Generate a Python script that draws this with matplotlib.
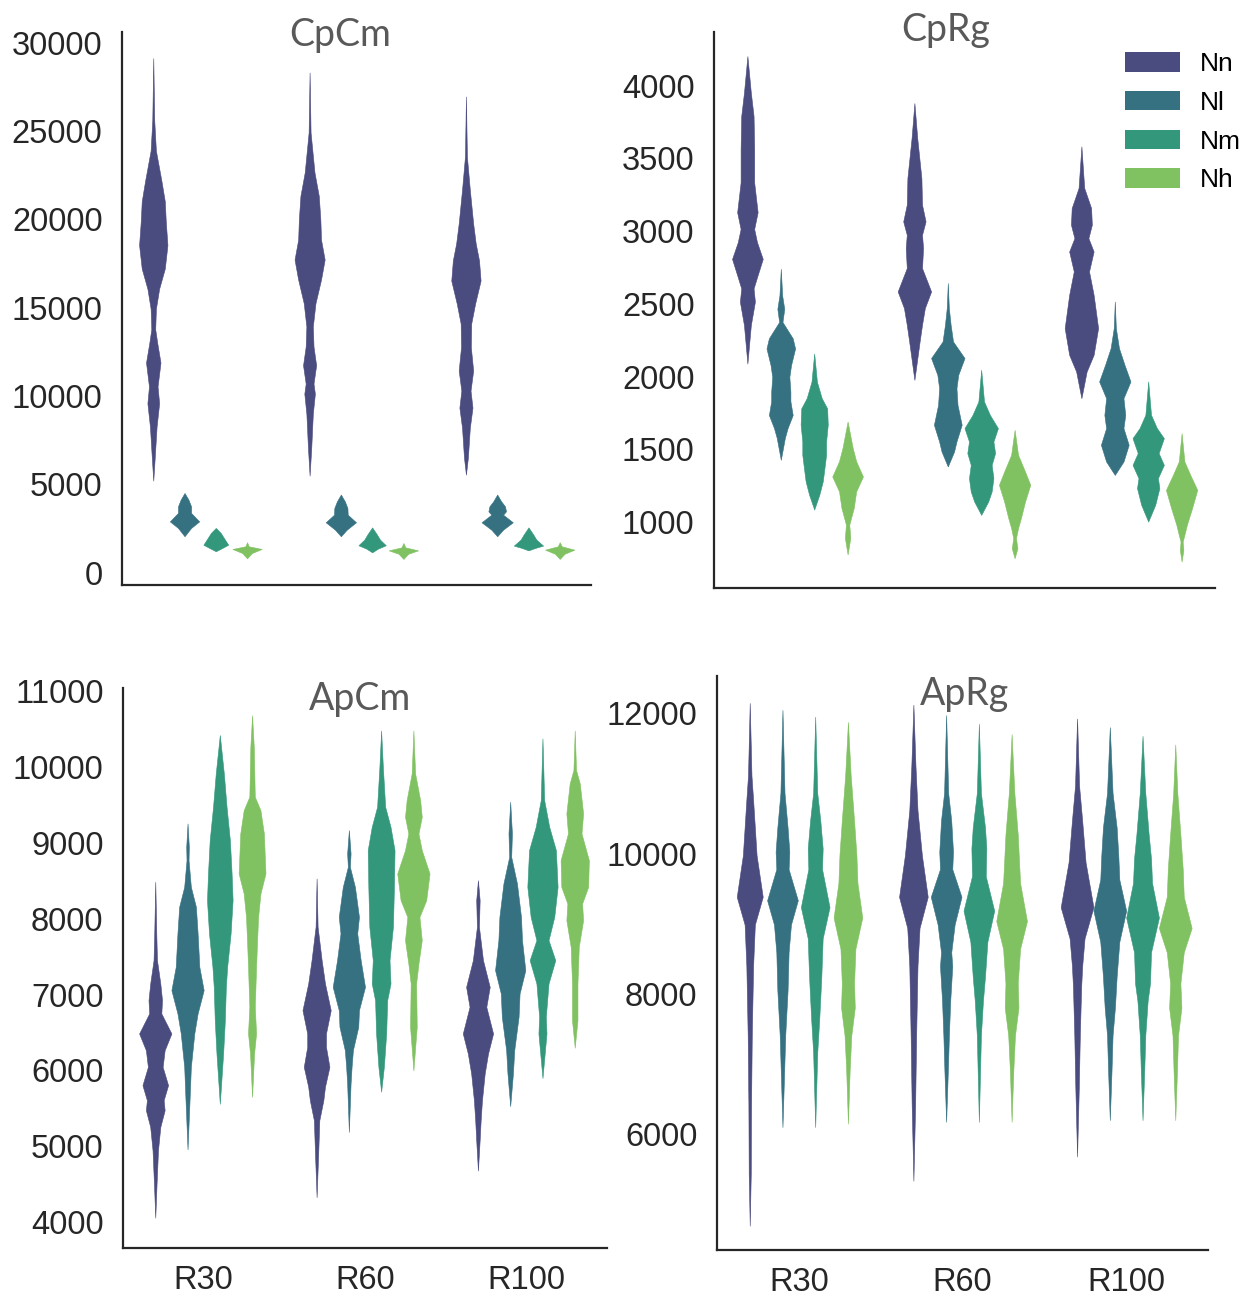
import numpy as np
import matplotlib.pyplot as plt
from matplotlib.patches import Patch

plt.rcParams['font.family'] = ['Liberation Sans', 'DejaVu Sans']

categories = ['R30', 'R60', 'R100']
groups = ['Nn', 'Nl', 'Nm', 'Nh']
colors = ['#4a4b7e', '#367182', '#33977c', '#80c161']

# violin profiles: (value, relative density), one list per category
# ---- CpCm ----
cpcm_nn = [
    [(5210, 0), (6340, 1.3), (8260, 3.4), (9590, 6), (10540, 4.4), (11890, 7.4), (13020, 4), (13780, 2),
     (14940, 2.7), (16070, 6), (17210, 11.8), (18540, 14.5), (19880, 12.8), (21020, 11.8), (22160, 8.4),
     (23880, 2.7), (25600, 1), (29120, 0)],
    [(5490, 0), (7080, 1.7), (9000, 3.3), (10130, 5.4), (10700, 4), (11740, 6.7), (12800, 4), (13930, 3.3),
     (15250, 6), (16590, 11.7), (17720, 15.4), (18850, 11.7), (19990, 11), (21320, 9.4), (22650, 5),
     (24910, 1), (28310, 0)],
    [(5550, 0), (6510, 2), (8210, 4), (9340, 6.7), (10300, 4.7), (11440, 7.4), (12770, 5), (14100, 5.4),
     (15230, 9.4), (16530, 15), (17670, 13.4), (18630, 10), (19760, 7.4), (21660, 4), (23550, 1), (26950, 0)],
]
cpcm_nl = [
    [(2060, 0), (2530, 6.7), (2900, 15), (3380, 6.7), (3750, 6.7), (4130, 4), (4510, 0)],
    [(2060, 0), (2430, 6), (2850, 15.5), (3280, 7), (3660, 6.7), (4040, 4), (4420, 0)],
    [(2060, 0), (2430, 6), (2850, 16), (3280, 6), (3470, 9), (3750, 8), (4040, 4), (4420, 0)],
]
cpcm_nm = [
    [(1210, 0), (1400, 6.7), (1580, 12.7), (1960, 8.3), (2250, 5), (2530, 0)],
    [(1150, 0), (1360, 6), (1550, 14), (1870, 8), (2150, 5), (2560, 0)],
    [(1260, 0), (1400, 7), (1530, 15), (1870, 8), (2150, 5), (2560, 0)],
]
cpcm_nh = [
    [(810, 0), (1110, 5), (1340, 15), (1490, 1.7), (1720, 0)],
    [(775, 0), (1070, 5), (1260, 15), (1430, 2), (1680, 0)],
    [(775, 0), (1070, 5), (1300, 15), (1490, 2), (1720, 0)],
]

# ---- CpRg ----
cprg_nn = [
    [(2089, 0), (2354, 3.3), (2515, 7.2), (2606, 5.9), (2697, 9.8), (2809, 14.7), (2924, 9.2), (3015, 6.5),
     (3130, 9.8), (3335, 6.5), (3564, 6.5), (3792, 5.9), (3952, 3.3), (4204, 0)],
    [(1977, 0), (2241, 5), (2356, 7.3), (2471, 10), (2585, 16), (2746, 7.3), (2884, 8.3), (2975, 7.3),
     (3067, 10.7), (3182, 7.3), (3365, 6.7), (3641, 2.7), (3881, 0)],
    [(1851, 0), (2034, 5), (2149, 11.7), (2333, 16), (2562, 11.7), (2723, 7.3), (2860, 11.7), (2952, 6.7),
     (3044, 10), (3159, 9.3), (3297, 2.7), (3583, 0)],
]
cprg_nl = [
    [(1427, 0), (1578, 3.9), (1645, 6.5), (1735, 11.4), (1830, 9.2), (1896, 9.2), (1997, 8.2), (2078, 9.8),
     (2193, 13.7), (2263, 11.4), (2375, 1.6), (2466, 3.3), (2558, 1.3), (2741, 0)],
    [(1381, 0), (1484, 6), (1553, 8.3), (1668, 13.3), (1805, 9.3), (1920, 8.3), (2012, 10), (2127, 16),
     (2241, 5), (2356, 2.7), (2471, 1), (2643, 0)],
    [(1323, 0), (1415, 8.3), (1530, 13.3), (1645, 8.3), (1736, 10), (1851, 8.3), (1966, 15), (2080, 9.3),
     (2195, 4), (2333, 1), (2516, 0)],
]
cprg_nm = [
    [(1085, 0), (1187, 4.9), (1279, 8.2), (1369, 9.8), (1461, 11.4), (1553, 11.4), (1669, 13), (1781, 12.4),
     (1851, 7.2), (1964, 2.6), (2158, 0)],
    [(1048, 0), (1140, 6.7), (1209, 10), (1301, 11.7), (1392, 10), (1473, 13.3), (1553, 11.7), (1645, 16),
     (1736, 8.3), (1828, 2.7), (2046, 0)],
    [(1002, 0), (1117, 6.7), (1232, 10.7), (1301, 9.3), (1392, 15), (1473, 10), (1576, 15), (1645, 8.3),
     (1736, 2.7), (1966, 0)],
]
cprg_nh = [
    [(776, 0), (890, 2.6), (981, 1.6), (1096, 5.9), (1210, 8.2), (1312, 14.7), (1417, 8.2), (1508, 4.9),
     (1690, 0)],
    [(750, 0), (819, 2.7), (888, 1.3), (957, 3.3), (1025, 6), (1140, 10), (1255, 15), (1346, 10), (1461, 3.3),
     (1633, 0)],
    [(727, 0), (807, 1.7), (864, 1), (911, 2.7), (979, 5), (1094, 10), (1220, 15), (1323, 8.3), (1415, 2.7),
     (1610, 0)],
]

# ---- ApCm ----
apcm_nn = [
    [(4060, 0), (4510, 1.3), (4949, 2.7), (5256, 5), (5476, 9.3), (5608, 8.3), (5806, 12.7), (6047, 7.3),
     (6267, 9.3), (6487, 16), (6751, 6), (6926, 6.7), (7146, 5), (7453, 1.7), (7805, 1), (8485, 0)],
    [(4330, 0), (4949, 1.7), (5344, 2.7), (5608, 6.7), (5784, 8.3), (6047, 12.7), (6311, 9.3), (6487, 9.3),
     (6794, 14), (7146, 8.3), (7453, 5), (7893, 1), (8530, 0)],
    [(4680, 0), (5081, 1.7), (5344, 2.7), (5608, 4), (5960, 6.7), (6223, 10), (6487, 15), (6838, 8.3),
     (7101, 11.7), (7453, 5), (7893, 1), (8244, 1.7), (8507, 0)],
]
apcm_nl = [
    [(4960, 0), (5608, 2), (6047, 3.3), (6487, 6.7), (6751, 10), (7058, 16), (7365, 11.7), (7805, 10),
     (8156, 8.3), (8419, 3.3), (8771, 1), (8947, 1.3), (9255, 0)],
    [(5190, 0), (5828, 1.7), (6047, 2.7), (6267, 4), (6574, 9.3), (6794, 10), (7101, 16), (7453, 11.7),
     (7805, 8.3), (8024, 10), (8419, 6), (8683, 1), (8859, 1.7), (9167, 0)],
    [(5530, 0), (5960, 2.7), (6267, 4), (6706, 8.3), (7014, 9.3), (7321, 15), (7717, 11.7), (8024, 10.7),
     (8464, 6.7), (8815, 1), (9123, 1.7), (9540, 0)],
]
apcm_nm = [
    [(5560, 0), (6223, 3.3), (6662, 5), (7101, 6), (7365, 7.3), (7805, 10.7), (8244, 12.7), (8596, 11.7),
     (9035, 10), (9474, 6.7), (9914, 4), (10420, 0)],
    [(5720, 0), (6047, 2.7), (6487, 5), (6926, 6), (7146, 9.3), (7453, 8.3), (7893, 11.7), (8419, 12.7),
     (8903, 13.3), (9210, 9.3), (9474, 4), (10001, 1.7), (10480, 0)],
    [(5900, 0), (6487, 4), (6706, 3.3), (7146, 6), (7453, 12.7), (7717, 6), (8024, 11.7), (8419, 15),
     (8903, 13.3), (9210, 6.7), (9562, 1.7), (10375, 0)],
]
apcm_nh = [
    [(5650, 0), (6223, 2), (6487, 4), (6838, 2.7), (7365, 4), (7717, 5), (8024, 6), (8332, 8.3), (8596, 13.3),
     (9123, 11.7), (9430, 8.3), (9606, 2.7), (10265, 1.7), (10680, 0)],
    [(6000, 0), (6574, 3.3), (7146, 2.7), (7409, 5), (7717, 8.3), (8024, 6), (8244, 12.7), (8596, 16),
     (8903, 8.3), (9123, 5), (9342, 8.3), (9562, 6.7), (9914, 1.7), (10480, 0)],
    [(6300, 0), (6662, 2.7), (7146, 2.7), (7629, 4), (7980, 8.3), (8200, 7.3), (8419, 13.3), (8771, 14),
     (9123, 6.7), (9387, 8.3), (9782, 5), (9958, 1.3), (10480, 0)],
]

# ---- ApRg ----
aprg_nn = [
    [(4696, 0), (5436, 1), (6423, 1.3), (7409, 2), (8396, 3.3), (8988, 5), (9383, 12.7), (9975, 6.7),
     (10765, 3.3), (11110, 1.7), (12146, 0)],
    [(5337, 0), (6423, 1.7), (7409, 2.7), (8396, 4), (8939, 6), (9383, 14), (9975, 8.3), (10616, 4),
     (11258, 2), (12121, 0)],
    [(5682, 0), (6669, 1.7), (7409, 2.7), (8100, 4), (8396, 5), (8791, 7.3), (9235, 16), (9876, 8.3),
     (10468, 5), (10962, 2), (11924, 0)],
]
aprg_nl = [
    [(6102, 0), (6916, 1.7), (7409, 2.7), (8051, 5), (8593, 6), (8988, 8.3), (9334, 15), (9778, 6),
     (10024, 6.7), (10370, 5), (10863, 2), (12047, 0)],
    [(6176, 0), (6916, 1.7), (7409, 2.7), (7903, 4), (8396, 6), (8593, 5), (8988, 8.3), (9383, 15), (9778, 6),
     (10024, 6.7), (10468, 5), (10863, 2), (11973, 0)],
    [(6201, 0), (6916, 1.7), (7409, 2.7), (7804, 5), (8248, 6.7), (8742, 9.3), (9186, 16), (9630, 9.3),
     (9975, 8.3), (10370, 6.7), (10863, 2.7), (11801, 0)],
]
aprg_nm = [
    [(6102, 0), (7163, 2), (7656, 4), (8248, 6), (8791, 7.3), (9235, 14), (9778, 6.7), (10073, 7.3),
     (10468, 5), (10863, 2), (11949, 0)],
    [(6176, 0), (7409, 2), (7903, 4), (8248, 6), (8742, 8.3), (9186, 15), (9679, 6.7), (10073, 7.3),
     (10370, 6), (10863, 2), (11850, 0)],
    [(6201, 0), (6916, 1.7), (7409, 2.7), (7903, 5), (8150, 7.3), (8593, 8.3), (9087, 16), (9580, 9.3),
     (9926, 8.3), (10271, 6), (10863, 2.7), (11677, 0)],
]
aprg_nh = [
    [(6151, 0), (6916, 1.7), (7409, 3.3), (7804, 6.7), (8150, 6), (8643, 7.3), (9087, 14), (9580, 9.3),
     (9975, 8.3), (10468, 6), (11110, 2.7), (11875, 0)],
    [(6176, 0), (6916, 1.7), (7409, 3.3), (7804, 6.7), (8150, 6), (8643, 8.3), (9038, 15), (9580, 8.3),
     (9876, 7.3), (10271, 6), (10863, 2.7), (11702, 0)],
    [(6201, 0), (6916, 1.7), (7409, 2.7), (7804, 6), (8150, 5), (8593, 8.3), (8939, 16), (9383, 8.3),
     (9778, 7.3), (10271, 5), (10863, 2), (11554, 0)],
]

W, H = 1253, 1297
fig = plt.figure(figsize=(W / 100, H / 100), dpi=100)

panels = [
    # title, data per group, axes rect (px: left, top, right, bottom), ylim, yticks, title centre (px)
    ('CpCm', [cpcm_nn, cpcm_nl, cpcm_nm, cpcm_nh], (122, 32, 591, 585), (-700, 30600),
     range(0, 30001, 5000), (340, 35)),
    ('CpRg', [cprg_nn, cprg_nl, cprg_nm, cprg_nh], (714, 32, 1215, 588), (545, 4370),
     range(1000, 4001, 500), (946, 30)),
    ('ApCm', [apcm_nn, apcm_nl, apcm_nm, apcm_nh], (123, 688, 607, 1248), (3660, 11040),
     range(4000, 11001, 1000), (360, 699)),
    ('ApRg', [aprg_nn, aprg_nl, aprg_nm, aprg_nh], (717, 676, 1208, 1250), (4350, 12530),
     range(6000, 12001, 2000), (965, 694)),
]


def violin_stats(profile):
    coords = np.array([p[0] for p in profile], dtype=float)
    vals = np.array([p[1] for p in profile], dtype=float)
    peak = coords[vals.argmax()]
    return dict(coords=coords, vals=vals, mean=peak, median=peak,
                min=coords.min(), max=coords.max())


axes = []
for i, (title, data, (l, t, r, b), ylim, yticks, tpos) in enumerate(panels):
    ax = fig.add_axes([l / W, 1 - b / H, (r - l) / W, (b - t) / H])
    axes.append(ax)
    x = np.arange(len(categories))
    for h, (grp, col) in enumerate(zip(data, colors)):
        pos = x - 0.3 + 0.2 * h
        stats = [violin_stats(p) for p in grp]
        widths = [s['vals'].max() / 80 for s in stats]
        parts = ax.violin(stats, positions=pos, widths=widths,
                          showmeans=False, showextrema=False, showmedians=False)
        for body in parts['bodies']:
            body.set_facecolor(col)
            body.set_edgecolor(col)
            body.set_linewidth(0.4)
            body.set_alpha(1)

    ax.set_xlim(-0.5, 2.5)
    ax.set_ylim(*ylim)
    ax.set_yticks(list(yticks))
    if i >= 2:
        ax.set_xticks(x)
        ax.set_xticklabels(categories)
    else:
        ax.set_xticks([])
    ax.tick_params(axis='y', length=0, pad=14, labelsize=23.5, labelcolor='#262626')
    ax.tick_params(axis='x', length=0, pad=12.5, labelsize=23.5, labelcolor='#262626')
    for s in ['top', 'right']:
        ax.spines[s].set_visible(False)
    for s in ['left', 'bottom']:
        ax.spines[s].set_color('#262626')
        ax.spines[s].set_linewidth(1.6)

    fig.text(tpos[0] / W, 1 - tpos[1] / H, title, ha='center', va='center',
             fontsize=27, color='#595959', family=['Lato', 'DejaVu Sans'])

handles = [Patch(facecolor=c, edgecolor='none', label=g) for g, c in zip(groups, colors)]
axes[1].legend(handles=handles, frameon=False, loc='upper left',
               bbox_to_anchor=(1125 / W, 1 - 52 / H), bbox_transform=fig.transFigure,
               fontsize=19, handlelength=2.08, handleheight=0.76, labelspacing=0.56,
               handletextpad=0.76, borderpad=0, borderaxespad=0)

plt.savefig('out.png', dpi=100)
